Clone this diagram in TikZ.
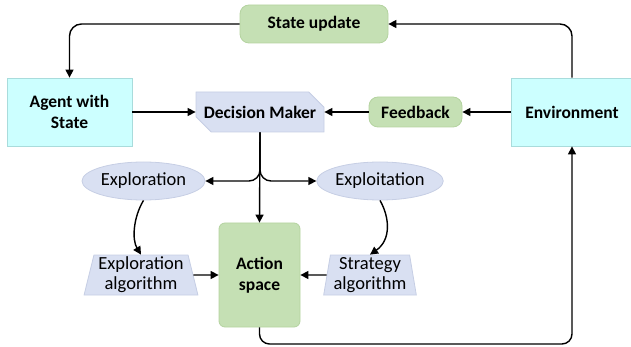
\documentclass[tikz,border=0pt]{standalone}
\usepackage{fontspec}
\setmainfont{Carlito}
\usetikzlibrary{shapes.geometric,shapes.misc,arrows.meta}
\definecolor{gfill}{HTML}{C5E0B4}
\definecolor{gdraw}{HTML}{B4D3A0}
\definecolor{lfill}{HTML}{D9E0F2}
\definecolor{ldraw}{HTML}{C6CEE4}
\definecolor{cfill}{HTML}{CCFFFF}
\definecolor{cdraw}{HTML}{A9DCDC}
\tikzset{
  base/.style={inner sep=0pt, align=center, font=\fontsize{18.5}{20}\selectfont, line width=0.8pt},
  boldf/.style={font=\bfseries\fontsize{17.5}{21}\selectfont},
  greenbox/.style={base, fill=gfill, draw=gdraw, rounded corners=9pt, boldf},
  cyanbox/.style={base, fill=cfill, draw=cdraw, boldf},
  lavell/.style={base, ellipse, fill=lfill, draw=ldraw},
  lavtrap/.style={base, trapezium, fill=lfill, draw=ldraw, trapezium stretches=true},
  dmbox/.style={base, chamfered rectangle, chamfered rectangle corners={north east,south west}, chamfered rectangle xsep=9pt, chamfered rectangle ysep=9pt, fill=lfill, draw=ldraw, boldf},
  arr/.style={line width=1.4pt, -{Triangle[length=8pt,width=8pt]}}
}
\begin{document}
\begin{tikzpicture}[x=1pt,y=-1pt]
\useasboundingbox (0,0) rectangle (631,347);
\node[greenbox, minimum width=148, minimum height=38] (su) at (314,24) {State update};
\node[cyanbox, minimum width=125, minimum height=68] (ag) at (69.5,112) {Agent with\\State};
\node[dmbox, minimum width=128, minimum height=40] (dm) at (260,112) {Decision Maker};
\node[greenbox, minimum width=93, minimum height=30] (fb) at (415.5,112) {Feedback};
\node[cyanbox, minimum width=122, minimum height=68] (env) at (572,112) {Environment};
\node[lavell, minimum width=123, minimum height=38] (xr) at (143.5,181) {Exploration};
\node[lavell, minimum width=126, minimum height=38] (xt) at (380,181) {Exploitation};
\node[greenbox, minimum width=81, minimum height=104, rounded corners=6pt] (as) at (259.5,275) {Action\\space};
\node[lavtrap, minimum width=114, minimum height=40, trapezium angle=76] (ea) at (141,275) {Exploration\\algorithm};
\node[lavtrap, minimum width=93, minimum height=40, trapezium angle=80] (sa) at (370,275) {Strategy\\algorithm};
% connectors
\draw[arr, rounded corners=12pt] (su.west) -| (ag.north);
\draw[arr, rounded corners=12pt] (env.north) |- (su.east);
\draw[arr] (ag.east) -- (dm.west);
\draw[arr] (env.west) -- (fb.east);
\draw[arr] (fb.west) -- (dm.east);
\draw[arr] (dm.south) -- (as.north);
\draw[arr, rounded corners=11pt] (dm.south) |- (xr.east);
\draw[arr, rounded corners=11pt] (dm.south) |- (xt.west);
\draw[arr] (xr.south) .. controls (133,218) and (132,240) .. (ea.north);
\draw[arr] (xt.south) .. controls (390,218) and (391,240) .. (sa.north);
\draw[arr] (ea.east) -- (as.west);
\draw[arr] (sa.west) -- (as.east);
\coordinate (bl) at (259.5,344);
\draw[arr, rounded corners=10pt] (as.south) -- (bl) -| (env.south);
\end{tikzpicture}
\end{document}
